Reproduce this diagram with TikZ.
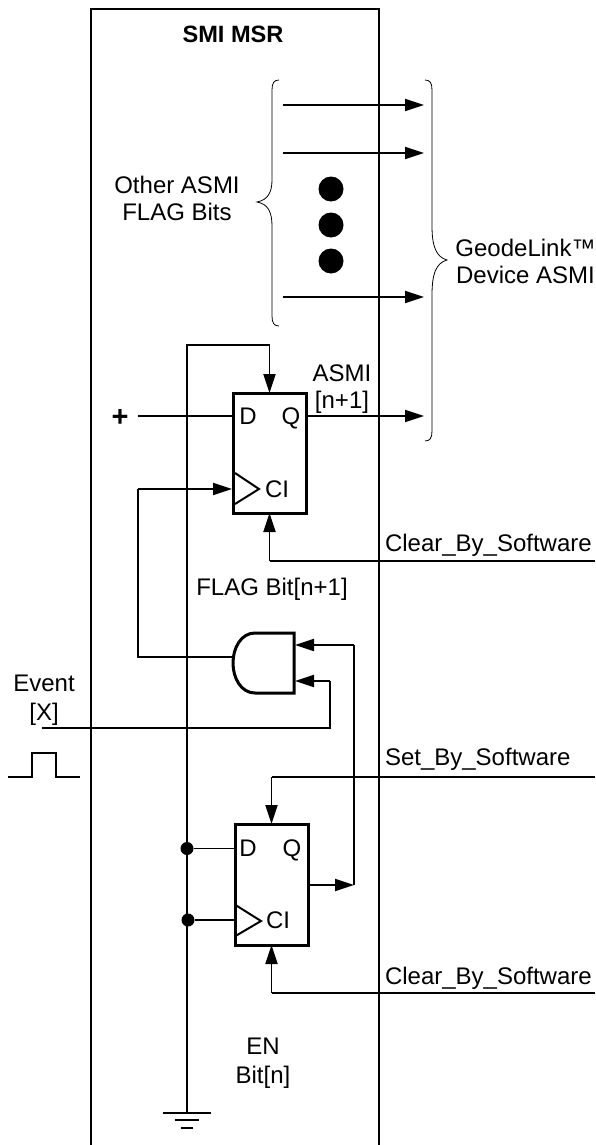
\documentclass[tikz,border=0pt]{standalone}
\usepackage{fontspec}
\setmainfont{Liberation Sans}
\usetikzlibrary{arrows.meta,calc}
\tikzset{
  wire/.style={line width=1.9pt,black},
  arr/.style={wire,-{Triangle[length=19pt,width=12pt]}},
  brace/.style={line width=0.8pt,black},
  box/.style={draw,line width=3pt,rectangle,inner sep=0,outer sep=0,minimum width=73pt},
  lbl/.style={inner sep=0,outer sep=0,anchor=base,font=\fontsize{24}{28}\selectfont},
  lbll/.style={lbl,anchor=base west},
  bdot/.style={circle,fill=black,inner sep=0,outer sep=0},
}
\begin{document}
\begin{tikzpicture}[x=1pt,y=-1pt]
\useasboundingbox (0,0) rectangle (595,1145);
% frame
\draw[wire] (91,1145) -- (91,9) -- (379,9) -- (379,1145);
\node[lbl,font=\fontsize{23.6}{28}\selectfont\bfseries] (title) at (233,43) {SMI MSR};
% braces
\draw[brace] (279,80) .. controls (274,80) and (272,83) .. (272,90) -- (272,180)
  .. controls (272,192) and (268,200) .. (257,202) .. controls (268,204) and (272,212) .. (272,226)
  -- (272,316) .. controls (272,323) and (274,326) .. (279,326);
\draw[brace] (425,80) .. controls (430,80) and (432,83) .. (432,90) -- (432,226)
  .. controls (432,246) and (436,257) .. (447,260) .. controls (436,263) and (432,274) .. (432,295)
  -- (432,431) .. controls (432,438) and (430,441) .. (425,441);
\node[lbl] (l1a) at (177,193) {Other ASMI};
\node[lbl] (l1b) at (177,220) {FLAG Bits};
\node[lbl] (l2a) at (525.5,256) {GeodeLink™};
\node[lbl] (l2b) at (525.5,283) {Device ASMI};
% other bits
\coordinate (a1s) at (283,105); \coordinate (a1e) at (424,105);
\coordinate (a2s) at (283,153); \coordinate (a2e) at (424,153);
\coordinate (a3s) at (283,297); \coordinate (a3e) at (424,297);
\draw[arr] (a1s) -- (a1e);
\draw[arr] (a2s) -- (a2e);
\draw[arr] (a3s) -- (a3e);
\node[bdot,minimum size=25pt] (d1) at (331,189) {};
\node[bdot,minimum size=25pt] (d2) at (331,225) {};
\node[bdot,minimum size=25pt] (d3) at (331,261) {};
% flip-flop 1
\node[box,minimum height=120pt] (ff1) at (269.5,453) {};
\draw[wire,line width=2pt] (235,473) -- (259,489) -- (235,504);
\node[lbl] (ff1d) at (248,424) {D};
\node[lbl] (ff1q) at (291,424) {Q};
\node[lbl] (ff1c) at (277,497) {CI};
\node[lbl] (asmi) at (342,381) {ASMI};
\node[lbl] (asmin) at (342,408) {[n+1]};
\node[lbl,font=\fontsize{29}{30}\selectfont\bfseries] (plus) at (120,426) {+};
\coordinate (gnd) at (187,1113);
\coordinate (fb) at (187,345);
\coordinate (dstart) at (138,416);
\coordinate (ff1qo) at (306,416);
\coordinate (ff1qe) at (424,416);
\draw[wire] (gnd) -- (fb) -- (fb -| ff1.north);
\draw[arr] (fb -| ff1.north) -- (ff1.north);
\draw[wire] (dstart) -- (dstart -| ff1.west);
\draw[arr] (ff1qo) -- (ff1qe);
\coordinate (clr1) at (595,561);
\draw[wire] (clr1) -- (clr1 -| ff1.south);
\draw[arr] (clr1 -| ff1.south) -- (ff1.south);
\node[lbll] (clr1t) at (385,551) {Clear\_By\_Software};
\node[lbl] (flag) at (272,595) {FLAG Bit[n+1]};
% AND gate
\coordinate (gl) at (233,657);
\draw[wire,line width=3pt] (255,633) .. controls (241,633) and (233,648) .. (233,663)
  .. controls (233,678) and (241,693) .. (255,693) -- (294,693) -- (294,633) -- cycle;
\coordinate (ckl) at (138,489);
\draw[wire] (gl) -- (138,657) -- (ckl);
\draw[arr] (ckl) -- (232,489);
% AND inputs
\coordinate (in1) at (295,645);
\coordinate (in2) at (295,681);
\coordinate (ev) at (42,728);
\draw[wire] (ev) -- (330,728) -- (330,681);
\draw[arr] (330,681) -- (in2);
\draw[wire] (354,885) -- (354,645);
\draw[arr] (354,645) -- (in1);
\node[lbl] (evt) at (44,691) {Event};
\node[lbl] (evx) at (44,720) {[X]};
\draw[wire] (8,777) -- (32,777) -- (32,753) -- (56,753) -- (56,777) -- (80,777);
% flip-flop 2
\node[box,minimum height=121pt] (ff2) at (271.5,884.5) {};
\draw[wire,line width=2pt] (235.5,905) -- (261,921) -- (235.5,936);
\node[lbl] (ff2d) at (248,856) {D};
\node[lbl] (ff2q) at (292,856) {Q};
\node[lbl] (ff2c) at (278,928) {CI};
\coordinate (set) at (595,777);
\draw[wire] (set) -- (set -| ff2.north);
\draw[arr] (set -| ff2.north) -- (ff2.north);
\node[lbll] (sett) at (385,765) {Set\_By\_Software};
\coordinate (clr2) at (595,993);
\draw[wire] (clr2) -- (clr2 -| ff2.south);
\draw[arr] (clr2 -| ff2.south) -- (ff2.south);
\node[lbll] (clr2t) at (385,984) {Clear\_By\_Software};
\coordinate (ff2qo) at (308,885);
\coordinate (ff2qe) at (354,885);
\draw[arr] (ff2qo) -- (ff2qe);
\node[bdot,minimum size=13pt] (j1) at (187,848.5) {};
\node[bdot,minimum size=13pt] (j2) at (188,920) {};
\draw[wire] (j1) -- (j1 -| ff2.west);
\draw[wire] (j2) -- (j2 -| ff2.west);
\node[lbl] (en) at (263,1054) {EN};
\node[lbl] (bitn) at (263,1083) {Bit[n]};
% ground
\draw[wire] (163,1113) -- (211,1113);
\draw[wire] (175,1120) -- (199,1120);
\draw[wire] (181,1128) -- (193,1128);
\end{tikzpicture}
\end{document}
